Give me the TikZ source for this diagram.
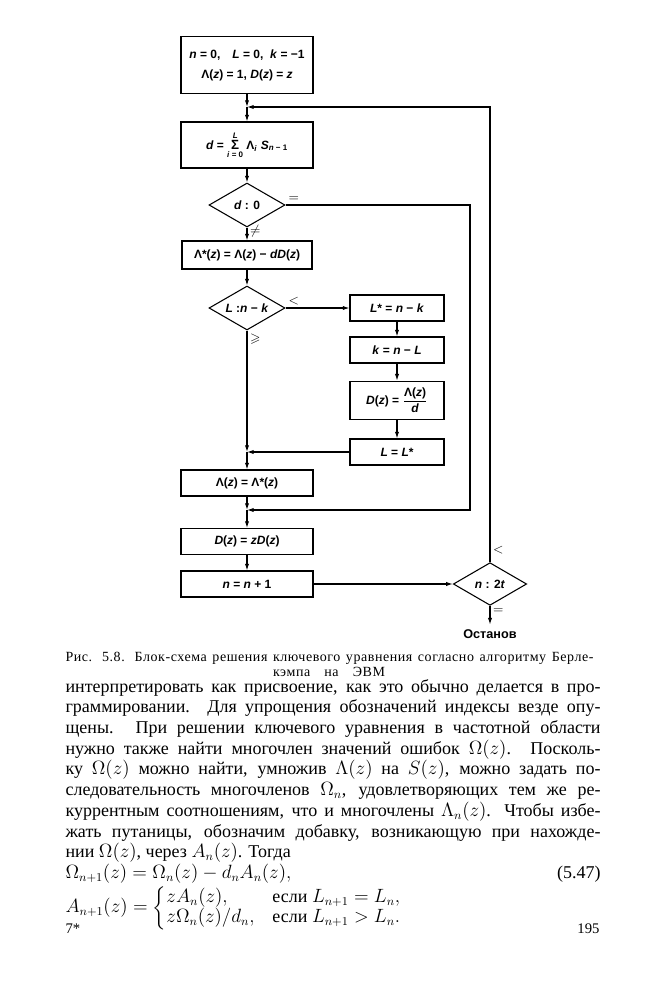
\documentclass[tikz,border=0pt]{standalone}
\usepackage{fontspec}
\usepackage{amsmath,amssymb}
\setmainfont{Liberation Serif}
\newfontfamily\diagfont{Liberation Sans}
\newfontfamily\capfont[LetterSpace=4]{Liberation Serif}
\usetikzlibrary{arrows.meta,shapes.geometric}
\newcommand{\vi}[1]{\textit{#1}}

\begin{document}
\begin{tikzpicture}[x=0.75pt, y=-0.75pt, >={Latex[length=5pt,width=3.2pt]},
    line width=0.8pt,
    box/.style={draw, rectangle, align=center, inner sep=2pt,
        font=\diagfont\bfseries\fontsize{9}{12}\selectfont,
        minimum width=99pt, minimum height=19.5pt},
    sidebox/.style={box, minimum width=70.5pt},
    decision/.style={draw, diamond, inner sep=0pt, shape aspect=1.7,
        font=\diagfont\bfseries\fontsize{9}{12}\selectfont,
        minimum width=57pt, minimum height=33pt},
    lbl/.style={font=\normalsize, inner sep=2pt},
    caption/.style={font=\capfont\fontsize{10.5}{12}\selectfont, inner sep=0pt},
    body/.style={font=\fontsize{13.5}{15.56}\selectfont, inner sep=0pt}]

    % page
    \useasboundingbox[fill=white] (0,0) rectangle (662,1000);

    % main column
    \node[box, minimum height=43pt] (init) at (247,65)
        {\vi{n} = 0,\quad \vi{L} = 0,\; \vi{k} = −1\\[3pt]
         Λ(\vi{z}) = 1, \vi{D}(\vi{z}) = \vi{z}};
    \coordinate (j1) at (247,107);
    \node[box, minimum height=34.5pt] (sum) at (247,145)
        {\vi{d} = $\mathop{\text{\fontsize{10}{12}\selectfont Σ}}\limits^{\text{\vi{L}}}_{\text{\vi{i} = 0}}$
         Λ\textsubscript{\vi{i}} \vi{S}\textsubscript{\vi{n} − 1}};
    \node[decision, minimum height=33pt] (dzero) at (247,205) {\vi{d} : 0};
    \node[box, minimum width=97.5pt, minimum height=21pt] (lamstar) at (247,255)
        {Λ*(\vi{z}) = Λ(\vi{z}) − \vi{dD}(\vi{z})};
    \node[decision, minimum height=33pt] (lcmp) at (247,308) {\vi{L} :\vi{n} − \vi{k}};
    \coordinate (j2) at (247,452);
    \node[box] (lamupd) at (247,483) {Λ(\vi{z}) = Λ*(\vi{z})};
    \coordinate (j3) at (247,510);
    \node[box] (dshift) at (247,541.5) {\vi{D}(\vi{z}) = \vi{zD}(\vi{z})};
    \node[box] (ninc) at (247,584) {\vi{n} = \vi{n} + 1};

    % side column
    \node[sidebox] (lstar) at (397,308) {\vi{L}* = \vi{n} − \vi{k}};
    \node[sidebox] (kupd) at (397,350) {\vi{k} = \vi{n} − \vi{L}};
    \node[sidebox, minimum height=29pt] (dupd) at (397,400.5)
        {\vi{D}(\vi{z}) = $\dfrac{\text{Λ(\vi{z})}}{\text{\vi{d}}}$};
    \node[sidebox] (lupd) at (397,452) {\vi{L} = \vi{L}*};

    % end test
    \node[decision, minimum width=55pt, minimum height=32pt] (nend) at (490,584) {\vi{n} : 2\vi{t}};
    \node[font=\diagfont\bfseries\fontsize{9.5}{12}\selectfont] (stop) at (490,634) {Останов};
    \coordinate (rail) at (470,300);

    % connectors
    \draw[->] (init) -- (j1);
    \draw[->] (j1) -- (sum);
    \draw[->] (sum) -- (dzero);
    \draw[->] (dzero) -- node[lbl, right, pos=0.3] {$\neq$} (lamstar);
    \draw[->] (dzero.east) node[lbl, above right] {$=$} -| (rail |- j3) -- (j3);
    \draw[->] (lamstar) -- (lcmp);
    \draw[->] (lcmp.east) node[lbl, above right] {$<$} -- (lstar);
    \draw[->] (lcmp.south) node[lbl, below right] {$\geqslant$} -- (j2);
    \draw[->] (lstar) -- (kupd);
    \draw[->] (kupd) -- (dupd);
    \draw[->] (dupd) -- (lupd);
    \draw[->] (lupd) -- (j2);
    \draw[->] (j2) -- (lamupd);
    \draw[->] (lamupd) -- (j3);
    \draw[->] (j3) -- (dshift);
    \draw[->] (dshift) -- (ninc);
    \draw[->] (ninc) -- (nend);
    \draw[->] (nend.north) node[lbl, above right, yshift=4pt] {$<$} |- (j1);
    \draw[->] (nend.south) node[lbl, below right] {$=$} -- (stop);

    % caption
    \node[caption, anchor=base west] (cap1) at (65,661)
        {\makebox[396pt][s]{Рис. 5.8. Блок-схема решения ключевого уравнения согласно алгоритму Берле-}};
    \node[caption, anchor=base] (cap2) at (329,676)
        {\makebox[84pt][s]{кэмпа на ЭВМ}};

    % text of the page, with the formulas (5.47)
    \node[body, anchor=base west, text width=401.25pt, align=justify] (para) at (65,692)
        {интерпретировать как присвоение, как это обычно делается в про-\linebreak
         граммировании. Для упрощения обозначений индексы везде опу-\linebreak
         щены. При решении ключевого уравнения в частотной области\linebreak
         нужно также найти многочлен значений ошибок $\Omega(z)$. Посколь-\linebreak
         ку $\Omega(z)$ можно найти, умножив $\Lambda(z)$ на $S(z)$, можно задать по-\linebreak
         следовательность многочленов $\Omega_n$, удовлетворяющих тем же ре-\linebreak
         куррентным соотношениям, что и многочлены $\Lambda_n(z)$. Чтобы избе-\linebreak
         жать путаницы, обозначим добавку, возникающую при нахожде-\linebreak
         нии $\Omega(z)$, через $A_n(z)$. Тогда\par
         \noindent$\Omega_{n+1}(z) = \Omega_n(z) - d_nA_n(z),$\hfill(5.47)\par
         \noindent$\renewcommand{\arraystretch}{0.8}%
         A_{n+1}(z) = \bigg\{\begin{array}{@{}l@{\quad}l@{}} zA_n(z), & \text{если } L_{n+1} = L_n,\\
         z\Omega_n(z)/d_n, & \text{если } L_{n+1} > L_n.\end{array}$\par};
    \node[body, font=\fontsize{11}{13}\selectfont, anchor=base west] (sig) at (65,933) {7*};
    \node[body, font=\fontsize{11}{13}\selectfont, anchor=base east] (folio) at (600,933) {195};

\end{tikzpicture}
\end{document}
